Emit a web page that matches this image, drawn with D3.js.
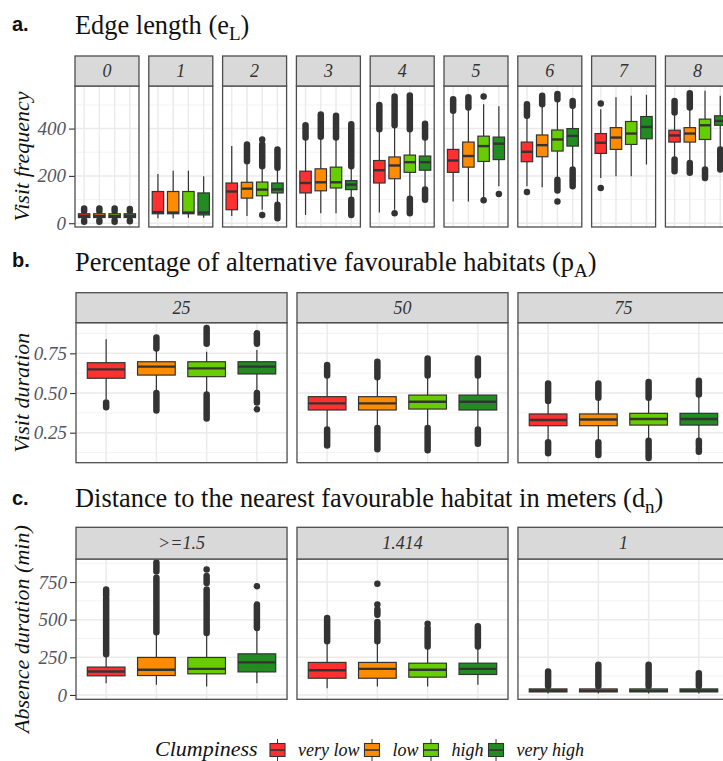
<!DOCTYPE html>
<html>
<head>
<meta charset="utf-8">
<script src="https://cdn.jsdelivr.net/npm/d3@7"></script>
<style>
	body { margin: 0; background: #fff; }
	svg { display: block; }
	.letter { font-family: "Liberation Sans", Arial, sans-serif; font-weight: bold; font-size: 20px; fill: #111; }
	.title { font-family: "Liberation Serif", "Tinos", "Times New Roman", Times, "DejaVu Serif", serif; font-size: 26.4px; fill: #111; }
	.serif-it { font-family: "Liberation Serif", "Tinos", "Times New Roman", Times, "DejaVu Serif", serif; font-style: italic; }
</style>
</head>
<body>
<div id="chart"></div>
<script>
const clumpiness = ["very low", "low", "high", "very high"];
const clumpColors = ["#FF3030", "#FF8C00", "#66CD00", "#228B22"];

// box stats: [lower whisker, q1, median, q3, upper whisker] per clumpiness level
// outliers: [from, to] stretches of stacked outlier dots (single dot when from == to)

//a. edge length
const edgePanels = ["0", "1", "2", "3", "4", "5", "6", "7", "8"];
const edgeStats = [
	[[14, 24, 30, 40, 50], [14, 24, 30, 40, 50], [14, 24, 30, 40, 50], [14, 24, 30, 40, 50]],
	[[21, 40, 47, 134, 208], [21, 40, 45, 134, 222], [23, 40, 45, 134, 222], [23, 35, 45, 128, 198]],
	[[31, 57, 134, 170, 326], [31, 106, 146, 173, 262], [57, 116, 142, 174, 241], [85, 128, 143, 170, 234]],
	[[35, 128, 170, 220, 362], [42, 137, 173, 230, 366], [42, 149, 173, 237, 362], [106, 142, 163, 180, 241]],
	[[45, 170, 224, 265, 397], [57, 188, 244, 280, 414], [106, 215, 258, 288, 397], [145, 224, 258, 284, 362]],
	[[92, 215, 265, 312, 475], [92, 237, 284, 343, 489], [105, 261, 326, 368, 503], [156, 269, 336, 364, 494]],
	[[156, 260, 302, 343, 454], [152, 281, 330, 373, 503], [184, 305, 354, 394, 524], [227, 326, 369, 400, 496]],
	[[191, 295, 340, 379, 482], [198, 312, 362, 404, 532], [198, 333, 379, 430, 539], [248, 357, 407, 451, 543]],
	[[269, 343, 371, 393, 468], [255, 343, 379, 404, 489], [227, 354, 414, 440, 560], [312, 414, 432, 454, 539]],
];
const edgeOutliers = [
	[[[52, 62], [6, 12]], [[52, 62], [6, 12]], [[52, 62], [6, 12]], [[52, 60], [8, 12]]],
	[[], [], [], []],
	[[], [[262, 333]], [[241, 333], [354, 354], [35, 35]], [[234, 312], [21, 78]]],
	[[[362, 414]], [[366, 460]], [[362, 454]], [[241, 418], [35, 99]]],
	[[[397, 470], [480, 500]], [[414, 536], [42, 42]], [[397, 530], [540, 540], [42, 103]], [[362, 420], [99, 142]]],
	[[[475, 524]], [[489, 532]], [[536, 536], [97, 97]], [[123, 123]]],
	[[[454, 503], [132, 132]], [[503, 539]], [[524, 546], [138, 184], [92, 92]], [[496, 517], [185, 227], [156, 175]]],
	[[[506, 506], [149, 149]], [], [], []],
	[[[468, 517], [220, 269]], [[489, 549], [213, 255]], [[191, 227]], [[227, 312]]],
];
const edgeTicks = [0, 200, 400];
const edgeMinor = [100, 300, 500];

//b. percentage of alternative favourable habitats
const habitatPanels = ["25", "50", "75"];
const habitatStats = [
	[[0.46, 0.593, 0.649, 0.691, 0.838], [0.508, 0.613, 0.666, 0.697, 0.771], [0.498, 0.603, 0.655, 0.697, 0.76], [0.508, 0.62, 0.666, 0.697, 0.771]],
	[[0.278, 0.393, 0.435, 0.477, 0.603], [0.288, 0.393, 0.435, 0.477, 0.592], [0.288, 0.399, 0.445, 0.487, 0.6], [0.278, 0.393, 0.445, 0.487, 0.6]],
	[[0.204, 0.294, 0.33, 0.368, 0.435], [0.204, 0.294, 0.333, 0.368, 0.456], [0.21, 0.298, 0.336, 0.372, 0.456], [0.21, 0.298, 0.336, 0.372, 0.477]],
];
const habitatOutliers = [
	[[[0.41, 0.44]], [[0.78, 0.85], [0.39, 0.5]], [[0.81, 0.91], [0.34, 0.49]], [[0.81, 0.876], [0.44, 0.5], [0.397, 0.397]]],
	[[[0.61, 0.676], [0.17, 0.27]], [[0.6, 0.697], [0.145, 0.28]], [[0.61, 0.718], [0.14, 0.28]], [[0.61, 0.718], [0.18, 0.27]]],
	[[[0.45, 0.56], [0.12, 0.19]], [[0.47, 0.56], [0.11, 0.19]], [[0.47, 0.57], [0.09, 0.2]], [[0.49, 0.577], [0.13, 0.15], [0.17, 0.2]]],
];
const habitatTicks = [0.25, 0.5, 0.75];
const habitatMinor = [0.125, 0.375, 0.625, 0.875];

//c. distance to the nearest favourable habitat
const distancePanels = [">=1.5", "1.414", "1"];
const distanceStats = [
	[[78, 127, 156, 185, 267], [67, 129, 167, 249, 416], [56, 140, 173, 249, 411], [78, 153, 216, 273, 444]],
	[[44, 111, 164, 216, 356], [56, 111, 173, 216, 356], [56, 118, 167, 211, 322], [67, 136, 173, 211, 322]],
	[[10, 20, 28, 40, 60], [10, 20, 28, 40, 60], [10, 20, 28, 40, 60], [10, 20, 28, 40, 60]],
];
const distanceOutliers = [
	[[[270, 640], [660, 700]], [[416, 778], [820, 880]], [[411, 700], [744, 790], [833, 833]], [[444, 600], [722, 722]]],
	[[[356, 511]], [[356, 484], [533, 567], [600, 600], [738, 738]], [[322, 444], [473, 473]], [[322, 456]]],
	[[[60, 156]], [[60, 200]], [[60, 200]], [[60, 144]]],
];
const distanceTicks = [0, 250, 500, 750];
const distanceMinor = [125, 375, 625, 875];

const rows = [
	{
		letter: "a.", title: ["Edge length (e", "L", ")"], yTitle: "Visit frequency",
		letterY: 31, titleY: 34, top: 56, stripH: 30, panelH: 141,
		left: 75, right: 729.4, innerPad: 0.133,
		panels: edgePanels, stats: edgeStats, outliers: edgeOutliers,
		domain: [-16, 580], ticks: edgeTicks, minor: edgeMinor, fmt: d3.format("d"),
	},
	{
		letter: "b.", title: ["Percentage of alternative favourable habitats (p", "A", ")"], yTitle: "Visit duration",
		letterY: 267, titleY: 271, top: 292.7, stripH: 30, panelH: 140,
		left: 76, right: 729, innerPad: 0.045,
		panels: habitatPanels, stats: habitatStats, outliers: habitatOutliers,
		domain: [0.061, 0.943], ticks: habitatTicks, minor: habitatMinor, fmt: d3.format(".2f"),
	},
	{
		letter: "c.", title: ["Distance to the nearest favourable habitat in meters (d", "n", ")"], yTitle: "Absence duration (min)",
		letterY: 505, titleY: 507, top: 527.3, stripH: 31.7, panelH: 140.3,
		left: 76, right: 729, innerPad: 0.045,
		panels: distancePanels, stats: distanceStats, outliers: distanceOutliers,
		domain: [-29, 903], ticks: distanceTicks, minor: distanceMinor, fmt: d3.format("d"),
	},
];

const WIDTH = 723;
const HEIGHT = 761;
const DARK = "#333333";

const svg = d3
	.select("#chart")
	.append("svg")
	.attr("width", WIDTH)
	.attr("height", HEIGHT);

rows.forEach((row) => drawRow(row));
drawLegend();

function drawRow(row) {
	//header
	svg.append("text").attr("class", "letter").attr("x", 12).attr("y", row.letterY).text(row.letter);
	const title = svg.append("text").attr("class", "title").attr("x", 75).attr("y", row.titleY);
	title.append("tspan").text(row.title[0]);
	title.append("tspan").attr("dy", 6).attr("font-size", 19).text(row.title[1]);
	title.append("tspan").attr("dy", -6).text(row.title[2]);

	//scales
	const panelTop = row.top + row.stripH;
	const panelBottom = panelTop + row.panelH;
	const y = d3.scaleLinear().domain(row.domain).range([panelBottom, panelTop]);
	const px = d3
		.scaleBand()
		.domain(row.panels)
		.range([row.left, row.right])
		.paddingInner(row.innerPad)
		.paddingOuter(0);
	const x = d3.scalePoint().domain(clumpiness).range([0, px.bandwidth()]).padding(0.6);
	const boxW = x.step() * 0.75;
	const color = d3.scaleOrdinal().domain(clumpiness).range(clumpColors);

	//y axis
	const axis = svg
		.append("g")
		.attr("transform", `translate(${row.left},0)`)
		.call(d3.axisLeft(y).tickValues(row.ticks).tickFormat(row.fmt).tickSize(6).tickPadding(3));
	axis.select(".domain").remove();
	axis.selectAll(".tick line").attr("stroke", DARK).attr("stroke-width", 1.1);
	axis
		.selectAll(".tick text")
		.attr("class", "serif-it")
		.attr("font-size", 19)
		.attr("fill", "#555560");

	//axis title
	svg
		.append("text")
		.attr("class", "serif-it")
		.attr("transform", `translate(29, ${(panelTop + panelBottom) / 2}) rotate(-90)`)
		.attr("text-anchor", "middle")
		.attr("font-size", 22)
		.attr("fill", "#111")
		.text(row.yTitle);

	//panels
	const panels = svg
		.selectAll(null)
		.data(row.panels)
		.join("g")
		.attr("transform", (d) => `translate(${px(d)},0)`);

	panels
		.append("rect")
		.attr("y", panelTop)
		.attr("width", px.bandwidth())
		.attr("height", row.panelH)
		.attr("fill", "#fff");

	panels
		.selectAll(".minor")
		.data(row.minor.filter((v) => v > row.domain[0] && v < row.domain[1]))
		.join("line")
		.attr("x1", 0)
		.attr("x2", px.bandwidth())
		.attr("y1", y)
		.attr("y2", y)
		.attr("stroke", "#F0F0F0")
		.attr("stroke-width", 0.8);

	panels
		.selectAll(".major")
		.data(row.ticks)
		.join("line")
		.attr("x1", 0)
		.attr("x2", px.bandwidth())
		.attr("y1", y)
		.attr("y2", y)
		.attr("stroke", "#EBEBEB")
		.attr("stroke-width", 1.5);

	panels
		.selectAll(".vgrid")
		.data(clumpiness)
		.join("line")
		.attr("x1", x)
		.attr("x2", x)
		.attr("y1", panelTop)
		.attr("y2", panelBottom)
		.attr("stroke", "#EBEBEB")
		.attr("stroke-width", 1.5);

	//boxes
	const boxes = panels
		.selectAll(".box")
		.data((p, i) =>
			clumpiness.map((c, j) => ({
				level: c,
				stats: row.stats[i][j],
				outliers: row.outliers[i][j],
			}))
		)
		.join("g")
		.attr("transform", (d) => `translate(${x(d.level)},0)`);

	boxes
		.append("line")
		.attr("y1", (d) => y(d.stats[0]))
		.attr("y2", (d) => y(d.stats[4]))
		.attr("stroke", DARK)
		.attr("stroke-width", 1.2);

	boxes
		.selectAll(".out")
		.data((d) => d.outliers)
		.join("line")
		.attr("y1", (d) => y(d[0]))
		.attr("y2", (d) => y(d[1]))
		.attr("stroke", DARK)
		.attr("stroke-width", 6.5)
		.attr("stroke-linecap", "round");

	boxes
		.append("rect")
		.attr("x", -boxW / 2)
		.attr("width", boxW)
		.attr("y", (d) => y(d.stats[3]))
		.attr("height", (d) => y(d.stats[1]) - y(d.stats[3]))
		.attr("fill", (d) => color(d.level))
		.attr("stroke", DARK)
		.attr("stroke-width", 1.2);

	boxes
		.append("line")
		.attr("x1", -boxW / 2)
		.attr("x2", boxW / 2)
		.attr("y1", (d) => y(d.stats[2]))
		.attr("y2", (d) => y(d.stats[2]))
		.attr("stroke", DARK)
		.attr("stroke-width", 2.4);

	//panel border
	panels
		.append("rect")
		.attr("y", panelTop)
		.attr("width", px.bandwidth())
		.attr("height", row.panelH)
		.attr("fill", "none")
		.attr("stroke", "#4D4D4D")
		.attr("stroke-width", 1.3);

	//strips
	panels
		.append("rect")
		.attr("y", row.top)
		.attr("width", px.bandwidth())
		.attr("height", row.stripH)
		.attr("fill", "#D9D9D9")
		.attr("stroke", "#4D4D4D")
		.attr("stroke-width", 1.3);

	panels
		.append("text")
		.attr("class", "serif-it")
		.attr("x", px.bandwidth() / 2)
		.attr("y", row.top + row.stripH / 2)
		.attr("dy", "0.35em")
		.attr("text-anchor", "middle")
		.attr("font-size", 18)
		.attr("fill", "#333")
		.text((d) => d);
}

function drawLegend() {
	const legend = svg.append("g").attr("transform", "translate(0, 750)");
	legend
		.append("text")
		.attr("class", "serif-it")
		.attr("x", 155)
		.attr("y", 6)
		.attr("font-size", 22)
		.attr("fill", "#111")
		.text("Clumpiness");

	let cursor = 270;
	clumpiness.forEach((c, i) => {
		const key = legend.append("g").attr("transform", `translate(${cursor},0)`);
		key.append("line").attr("x1", 7.5).attr("x2", 7.5).attr("y1", -11).attr("y2", 11).attr("stroke", DARK).attr("stroke-width", 1);
		key
			.append("rect")
			.attr("y", -6.5)
			.attr("width", 15)
			.attr("height", 13)
			.attr("fill", clumpColors[i])
			.attr("stroke", DARK)
			.attr("stroke-width", 1.1);
		key.append("line").attr("x1", 0).attr("x2", 15).attr("y1", 0).attr("y2", 0).attr("stroke", DARK).attr("stroke-width", 1.6);
		const label = legend
			.append("text")
			.attr("class", "serif-it")
			.attr("x", cursor + 28)
			.attr("y", 6)
			.attr("font-size", 18)
			.attr("fill", "#111")
			.text(c);
		cursor += 28 + label.node().getComputedTextLength() + 5;
	});
}
</script>
</body>
</html>
